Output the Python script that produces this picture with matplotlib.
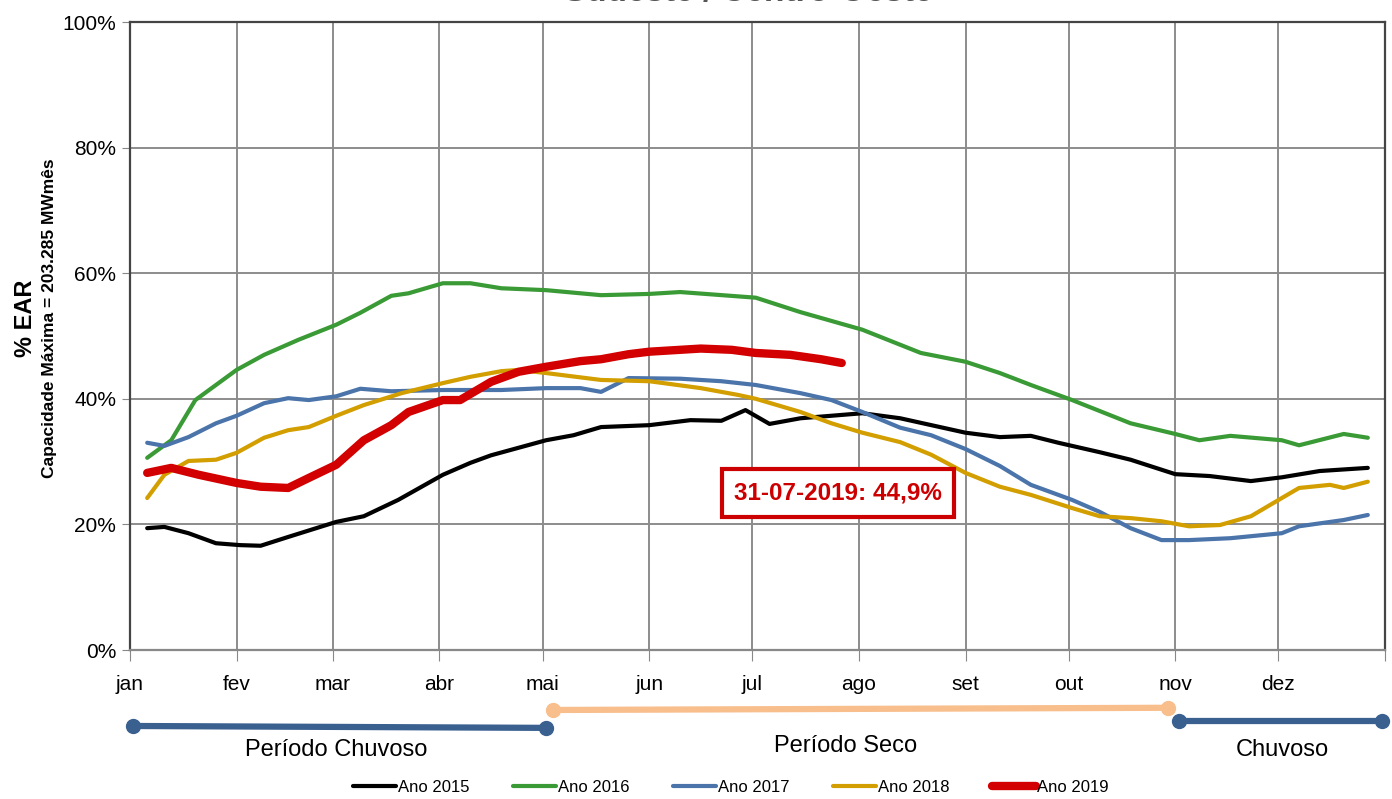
import matplotlib
matplotlib.use("Agg")
import matplotlib.pyplot as plt
import matplotlib.transforms as mtransforms

plt.rcParams['font.family'] = ['Liberation Sans', 'DejaVu Sans']

# data (day of year, % EAR)
meses = ['jan', 'fev', 'mar', 'abr', 'mai', 'jun', 'jul', 'ago', 'set', 'out', 'nov', 'dez']
inicio_mes = [0, 31, 59, 90, 120, 151, 181, 212, 243, 273, 304, 334]

dias_2015 = [5, 10, 17, 25, 32, 38, 46, 60, 68, 78, 91, 99, 105, 121, 129, 137, 151, 163, 172,
             179, 186, 195, 213, 224, 243, 253, 262, 270, 282, 291, 304, 314, 326, 335, 346, 360]
ear_2015 = [19.4, 19.6, 18.6, 17.0, 16.7, 16.6, 18.0, 20.4, 21.3, 23.9, 27.9, 29.8, 31.0, 33.4,
            34.2, 35.5, 35.8, 36.6, 36.5, 38.2, 36.0, 36.9, 37.7, 36.9, 34.6, 33.9, 34.1, 33.0,
            31.5, 30.3, 28.0, 27.7, 26.9, 27.5, 28.5, 29.0]

dias_2016 = [5, 12, 19, 25, 31, 39, 49, 60, 67, 76, 81, 91, 99, 108, 121, 137, 151, 160, 182,
             195, 213, 230, 243, 253, 262, 274, 291, 304, 311, 320, 335, 340, 353, 360]
ear_2016 = [30.6, 33.4, 39.8, 42.2, 44.6, 47.0, 49.4, 51.8, 53.7, 56.4, 56.8, 58.4, 58.4, 57.6,
            57.3, 56.5, 56.7, 57.0, 56.1, 53.8, 51.0, 47.3, 45.9, 44.1, 42.2, 39.8, 36.1, 34.4,
            33.4, 34.1, 33.4, 32.6, 34.4, 33.8]

dias_2017 = [5, 10, 17, 25, 31, 39, 46, 52, 60, 67, 76, 91, 108, 121, 131, 137, 145, 160, 172,
             182, 195, 204, 213, 224, 233, 243, 253, 262, 274, 282, 291, 300, 308, 320, 335, 340,
             353, 360]
ear_2017 = [33.0, 32.5, 33.9, 36.1, 37.3, 39.3, 40.1, 39.8, 40.4, 41.6, 41.2, 41.4, 41.4, 41.7,
            41.7, 41.1, 43.3, 43.2, 42.8, 42.2, 40.9, 39.8, 37.9, 35.4, 34.2, 32.0, 29.3, 26.3,
            23.9, 22.0, 19.4, 17.5, 17.5, 17.8, 18.6, 19.7, 20.7, 21.5]

dias_2018 = [5, 10, 17, 25, 31, 39, 46, 52, 60, 68, 79, 91, 99, 108, 113, 121, 137, 151, 166,
             177, 182, 195, 204, 213, 224, 233, 243, 253, 262, 274, 282, 291, 300, 308, 317, 326,
             335, 340, 349, 353, 360]
ear_2018 = [24.2, 27.9, 30.1, 30.3, 31.4, 33.8, 35.0, 35.5, 37.3, 39.0, 40.9, 42.5, 43.5, 44.4,
            44.6, 44.1, 43.0, 42.8, 41.7, 40.6, 40.0, 37.9, 36.1, 34.6, 33.1, 31.1, 28.2, 26.0,
            24.7, 22.6, 21.3, 21.0, 20.5, 19.7, 19.9, 21.3, 24.2, 25.8, 26.3, 25.8, 26.8]

dias_2019 = [5, 12, 20, 31, 38, 46, 52, 60, 68, 76, 81, 91, 96, 105, 113, 121, 131, 137, 145,
             151, 166, 175, 182, 192, 201, 207]
ear_2019 = [28.2, 29.0, 27.9, 26.6, 26.0, 25.8, 27.4, 29.5, 33.4, 35.8, 37.9, 39.8, 39.8, 42.7,
            44.3, 45.1, 46.0, 46.3, 47.1, 47.5, 48.0, 47.8, 47.3, 47.0, 46.3, 45.7]

# rainy / dry season bars (day of year)
chuvoso_1 = [1, 121]
seco = [123, 302]
chuvoso_2 = [305, 364]

fig = plt.figure(figsize=(13.92, 7.99), dpi=100)
ax = fig.add_axes([130 / 1392, 1 - 650 / 799, 1255 / 1392, 628 / 799])

ax.plot(dias_2015, ear_2015, color='#000000', lw=3, solid_capstyle='round',
        solid_joinstyle='round', label='Ano 2015')
ax.plot(dias_2016, ear_2016, color='#3a9a35', lw=3, solid_capstyle='round',
        solid_joinstyle='round', label='Ano 2016')
ax.plot(dias_2017, ear_2017, color='#4a74aa', lw=3, solid_capstyle='round',
        solid_joinstyle='round', label='Ano 2017')
ax.plot(dias_2018, ear_2018, color='#d29e00', lw=3, solid_capstyle='round',
        solid_joinstyle='round', label='Ano 2018')
ax.plot(dias_2019, ear_2019, color='#d20000', lw=6, solid_capstyle='round',
        solid_joinstyle='round', label='Ano 2019')

ax.set_xlim(0, 365)
ax.set_ylim(0, 100)
ax.set_xticks(inicio_mes + [365])
ax.set_xticklabels(meses + [''], fontsize=15)
ax.set_yticks(range(0, 101, 20))
ax.set_yticklabels([f'{v}%' for v in range(0, 101, 20)], fontsize=15)
ax.tick_params(axis='x', length=8, color='#888888', pad=10)
ax.tick_params(axis='y', length=6, color='#888888', pad=4)
ax.grid(True, color='#8c8c8c', lw=1.4)
ax.set_axisbelow(True)
for s in ['left', 'right', 'top']:
    ax.spines[s].set_color('#444444')
    ax.spines[s].set_linewidth(1.6)
ax.spines['bottom'].set_color('#888888')
ax.spines['bottom'].set_linewidth(1.6)

# last value box
ax.text(206, 25.0, '31-07-2019: 44,9%', color='#cc0000', fontsize=17.5, fontweight='bold',
        ha='center', va='center',
        bbox=dict(boxstyle='square,pad=0.5', fc='white', ec='#cc0000', lw=3))

# season bars under the axis
trans = mtransforms.blended_transform_factory(ax.transData, ax.transAxes)
ax.plot(chuvoso_1, [-0.121, -0.124], color='#3a6090', lw=4.5, marker='o', ms=10,
        transform=trans, clip_on=False)
ax.plot(seco, [-0.0955, -0.092], color='#f8be8c', lw=4.5, marker='o', ms=10,
        transform=trans, clip_on=False)
ax.plot(chuvoso_2, [-0.113, -0.113], color='#3a6090', lw=4.5, marker='o', ms=10,
        transform=trans, clip_on=False)
ax.text(60, -0.16, 'Período Chuvoso', fontsize=17, ha='center', va='center', transform=trans)
ax.text(208, -0.153, 'Período Seco', fontsize=17, ha='center', va='center', transform=trans)
ax.text(335, -0.16, 'Chuvoso', fontsize=17, ha='center', va='center', transform=trans)

# y axis titles
fig.text(25 / 1392, 1 - 318 / 799, '% EAR', rotation=90, fontsize=17, fontweight='bold',
         ha='center', va='center')
fig.text(50 / 1392, 1 - 318 / 799, 'Capacidade Máxima = 203.285 MWmês', rotation=90,
         fontsize=12.5, fontweight='bold', ha='center', va='center')

# title, mostly cut off at the top edge (as in the source image)
fig.text(748 / 1392, 1 + 7 / 799, 'Sudeste / Centro-Oeste', fontsize=24, fontweight='bold',
         color='#555555', ha='center', va='center')

leg = fig.legend(loc='center', bbox_to_anchor=(731 / 1392, 1 - 787 / 799), ncol=5,
                 frameon=False, fontsize=12, handlelength=2.6, handletextpad=0.1,
                 columnspacing=2.6)

fig.savefig('out.png', dpi=100)
